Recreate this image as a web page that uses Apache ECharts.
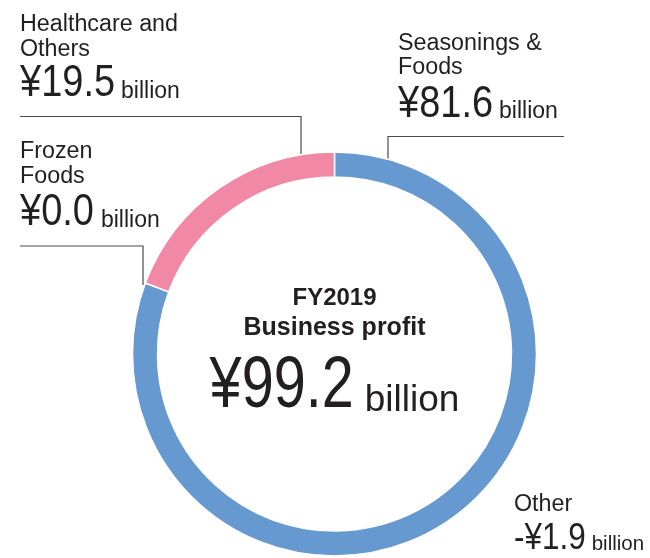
<!DOCTYPE html>
<html>
<head>
<meta charset="utf-8">
<style>
  html, body { margin: 0; padding: 0; background: #fff; }
  #chart { width: 650px; height: 558px; }
</style>
<script src="https://cdn.jsdelivr.net/npm/echarts@6/dist/echarts.min.js"></script>
</head>
<body>
<div id="chart"></div>
<script>
// Business profit by segment, FY2019 (¥ billion)
const segmentNames = ['Seasonings & Foods', 'Frozen Foods', 'Healthcare and Others', 'Other'];
const segmentLabelLines = [['Seasonings &', 'Foods'], ['Frozen', 'Foods'], ['Healthcare and', 'Others'], ['Other']];
const segmentValues = [81.6, 0.0, 19.5, -1.9];
const segmentColors = ['#6699d0', '#6699d0', '#f088a6', '#6699d0'];
const totalLabel = ['FY2019', 'Business profit'];
const totalValue = 99.2;
const unitText = 'billion';

const TEXT = '#231f20';
const SANS = "'Liberation Sans', Arial, sans-serif";
const NUM_SQUEEZE = 0.85;   // condensed figures for the amounts

function yen(v) {
  return (v < 0 ? '-¥' : '¥') + Math.abs(v).toFixed(1);
}

const measureCtx = document.createElement('canvas').getContext('2d');
function textWidth(str, size, weight) {
  measureCtx.font = (weight || 'normal') + ' ' + size + 'px ' + SANS;
  return measureCtx.measureText(str).width;
}

// Only non-negative segments form part of the ring
const pieData = segmentNames.map((n, i) => ({
  name: n,
  value: segmentValues[i],
  itemStyle: { color: segmentColors[i] }
})).filter(d => d.value >= 0);

// Label blocks: segment index, left x, name line centres, amount centre, sizes, leader polyline
const labelLayout = [
  { i: 2, x: 20, names: [24.2, 49.5], amountY: 84, amountBase: 100, numSize: 44.7, unitSize: 23, gap: 6,
    line: [[20, 116.5], [301, 116.5], [301, 163]] },
  { i: 0, x: 398, names: [43.7, 67.8], amountY: 104.2, amountBase: 120, numSize: 44.7, unitSize: 23, gap: 6,
    line: [[564, 136.5], [388, 136.5], [388, 171]] },
  { i: 1, x: 20, names: [151.2, 176.7], amountY: 212.5, amountBase: 228.3, numSize: 44.7, unitSize: 23, gap: 7,
    line: [[20, 246], [143, 246], [143, 285]] },
  { i: 3, x: 514, names: [504.2], amountY: 539.2, amountBase: 551.7, numSize: 37, unitSize: 20.5, gap: 6,
    line: null }
];

const graphics = [];

function amountPair(x, cy, baseline, value, numSize, unitSize, gap) {
  const str = yen(value);
  graphics.push({
    type: 'text', x: x, y: cy, scaleX: NUM_SQUEEZE, silent: true,
    style: {
      text: str, fill: TEXT, fontFamily: SANS, fontSize: numSize,
      align: 'left', verticalAlign: 'middle'
    }
  });
  const ux = x + textWidth(str, numSize) * NUM_SQUEEZE + gap;
  graphics.push({
    type: 'text', x: ux, y: baseline - unitSize * 0.35, silent: true,
    style: {
      text: unitText, fill: TEXT, fontFamily: SANS, fontSize: unitSize,
      align: 'left', verticalAlign: 'middle'
    }
  });
}

labelLayout.forEach(L => {
  const lines = segmentLabelLines[L.i];
  lines.forEach((t, k) => {
    graphics.push({
      type: 'text', x: L.x, y: L.names[k], silent: true,
      style: {
        text: t, fill: TEXT, fontFamily: SANS, fontSize: 23.3,
        align: 'left', verticalAlign: 'middle'
      }
    });
  });
  amountPair(L.x, L.amountY, L.amountBase, segmentValues[L.i], L.numSize, L.unitSize, L.gap);
  if (L.line) {
    graphics.push({
      type: 'polyline', silent: true,
      shape: { points: L.line },
      style: { stroke: '#4a4a4a', lineWidth: 1.2, fill: null }
    });
  }
});

// Centre total
const cx = 334.5;
const totalNum = yen(totalValue);
const totalNumSize = 72, totalUnitSize = 37, totalGap = 11;
const totalSqueeze = 0.8;
const totalW = textWidth(totalNum, totalNumSize) * totalSqueeze + totalGap + textWidth(unitText, totalUnitSize);
graphics.push({
  type: 'text', x: cx, y: 298.7, silent: true,
  style: { text: totalLabel[0], fill: TEXT, fontFamily: SANS, fontWeight: 'bold',
    fontSize: 24, align: 'center', verticalAlign: 'middle' }
});
graphics.push({
  type: 'text', x: cx, y: 328.5, silent: true,
  style: { text: totalLabel[1], fill: TEXT, fontFamily: SANS, fontWeight: 'bold',
    fontSize: 25, align: 'center', verticalAlign: 'middle' }
});
(function () {
  const x0 = cx - totalW / 2;
  graphics.push({
    type: 'text', x: x0, y: 387.5, scaleX: totalSqueeze, silent: true,
    style: { text: totalNum, fill: TEXT, fontFamily: SANS, fontSize: totalNumSize,
      align: 'left', verticalAlign: 'middle' }
  });
  graphics.push({
    type: 'text', x: x0 + textWidth(totalNum, totalNumSize) * totalSqueeze + totalGap,
    y: 413.3 - totalUnitSize * 0.35, silent: true,
    style: { text: unitText, fill: TEXT, fontFamily: SANS, fontSize: totalUnitSize,
      align: 'left', verticalAlign: 'middle' }
  });
})();

const chart = echarts.init(document.getElementById('chart'));
chart.setOption({
  backgroundColor: '#fff',
  animation: false,
  series: [{
    type: 'pie',
    center: [334.5, 354],
    radius: [177, 202],
    startAngle: 90,
    clockwise: true,
    avoidLabelOverlap: false,
    label: { show: false },
    labelLine: { show: false },
    emphasis: { disabled: true },
    itemStyle: { borderColor: '#fff', borderWidth: 1.5 },
    data: pieData
  }],
  graphic: graphics
});
</script>
</body>
</html>
